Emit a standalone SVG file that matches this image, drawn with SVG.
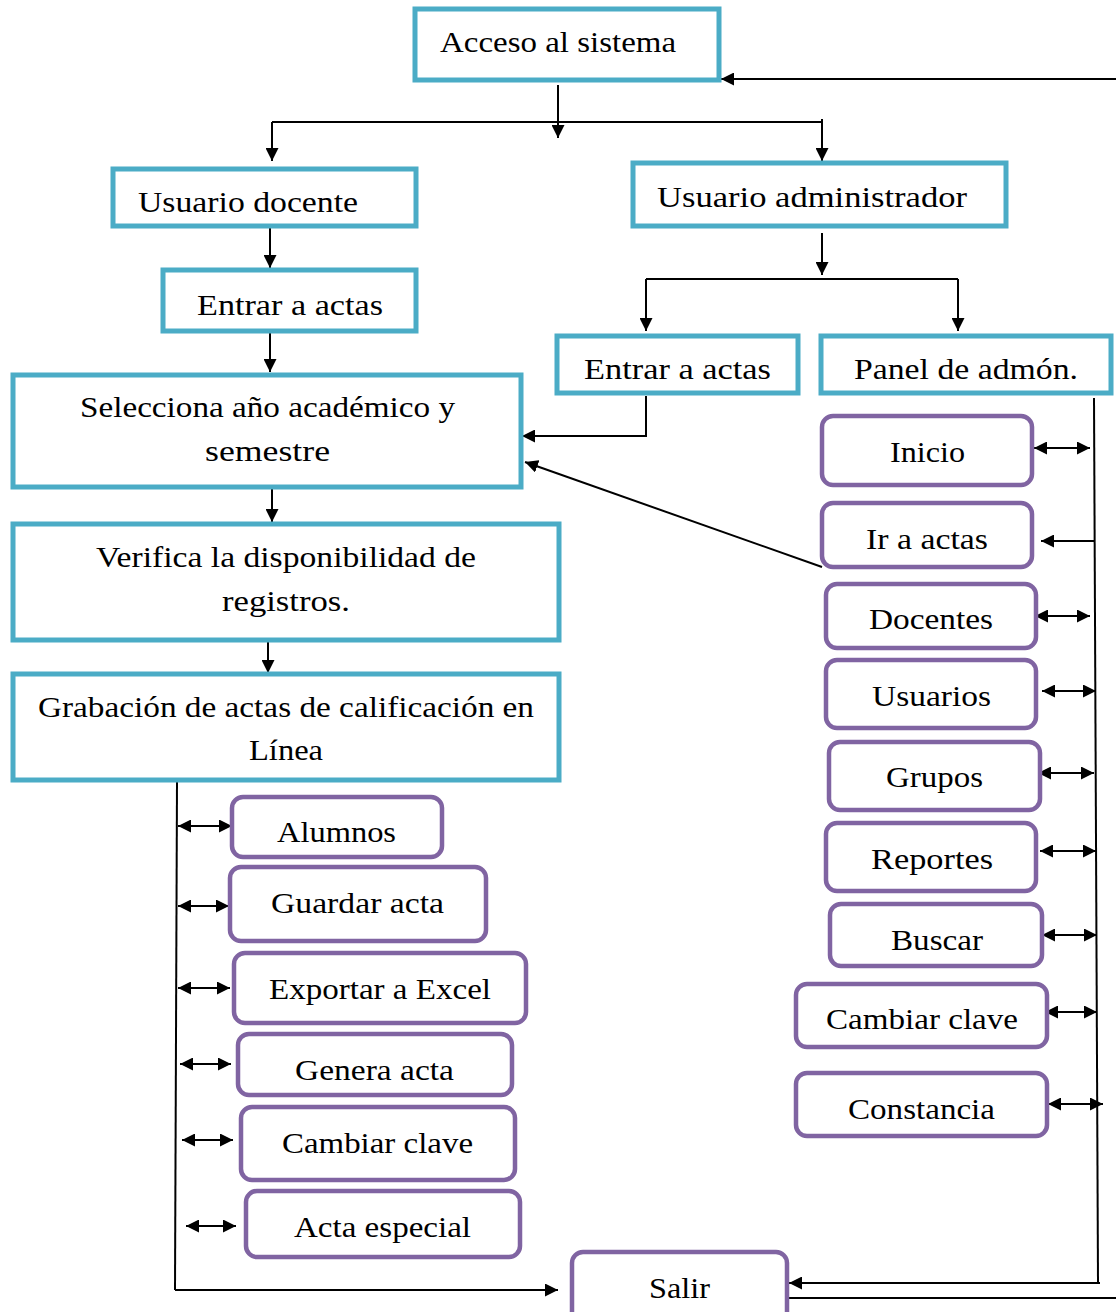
<svg xmlns="http://www.w3.org/2000/svg" width="1116" height="1312" viewBox="0 0 1116 1312">
<defs>
<marker id="ah" viewBox="0 0 10 10" refX="10" refY="5" markerWidth="13" markerHeight="13" markerUnits="userSpaceOnUse" orient="auto-start-reverse"><path d="M0,0 L10,5 L0,10 Z" fill="#000"/></marker>
</defs>
<style>
.c{fill:#fff;stroke:#4BACC6;stroke-width:5}
.p{fill:#fff;stroke:#8064A2;stroke-width:4.5}
.t{font-family:"Liberation Serif","DejaVu Serif",serif;font-size:30px;fill:#000;text-anchor:middle}
.l{fill:none;stroke:#000;stroke-width:2}
.a{marker-end:url(#ah)}
.d{marker-start:url(#ah);marker-end:url(#ah)}
</style>
<rect width="1116" height="1312" fill="#fff"/>
<g id="connectors">
<line class="l a" x1="1116" y1="79" x2="721" y2="79"/>
<line class="l a" x1="558" y1="85" x2="558" y2="138"/>
<line class="l" x1="272" y1="122" x2="822" y2="122"/>
<line class="l a" x1="272" y1="122" x2="272" y2="161"/>
<line class="l a" x1="822" y1="119" x2="822" y2="161"/>
<line class="l a" x1="270" y1="227" x2="270" y2="268"/>
<line class="l a" x1="270" y1="333" x2="270" y2="372"/>
<line class="l a" x1="272" y1="476" x2="272" y2="522"/>
<line class="l a" x1="268" y1="642" x2="268" y2="673"/>
<line class="l a" x1="822" y1="233" x2="822" y2="275"/>
<line class="l" x1="646" y1="279" x2="958" y2="279"/>
<line class="l a" x1="646" y1="279" x2="646" y2="331"/>
<line class="l a" x1="958" y1="279" x2="958" y2="331"/>
<polyline class="l a" points="646,396 646,436 522,436"/>
<line class="l a" x1="822" y1="567" x2="525" y2="462"/>
<line class="l" x1="1094" y1="398" x2="1098" y2="1283"/>
<line class="l a" x1="1100" y1="1283" x2="789" y2="1283"/>
<line class="l" x1="787" y1="1298" x2="1116" y2="1298"/>
<line class="l d" x1="1034" y1="448" x2="1090" y2="448"/>
<line class="l a" x1="1095" y1="541" x2="1041" y2="541"/>
<line class="l d" x1="1035" y1="616" x2="1090" y2="616"/>
<line class="l d" x1="1042" y1="691" x2="1096" y2="691"/>
<line class="l d" x1="1038" y1="773" x2="1094" y2="773"/>
<line class="l d" x1="1040" y1="851" x2="1096" y2="851"/>
<line class="l d" x1="1042" y1="935" x2="1097" y2="935"/>
<line class="l d" x1="1045" y1="1012" x2="1097" y2="1012"/>
<line class="l d" x1="1048" y1="1104" x2="1103" y2="1104"/>
<line class="l" x1="177" y1="782" x2="175" y2="1290"/>
<line class="l a" x1="175" y1="1290" x2="558" y2="1290"/>
<line class="l d" x1="178" y1="826" x2="232" y2="826"/>
<line class="l d" x1="178" y1="906" x2="229" y2="906"/>
<line class="l d" x1="178" y1="988" x2="230" y2="988"/>
<line class="l d" x1="180" y1="1064" x2="231" y2="1064"/>
<line class="l d" x1="182" y1="1140" x2="233" y2="1140"/>
<line class="l d" x1="186" y1="1226" x2="236" y2="1226"/>
</g>
<g id="n-acceso"><rect class="c" x="415" y="9" width="304" height="71"/><text class="t" x="558" y="52" textLength="236" lengthAdjust="spacingAndGlyphs">Acceso al sistema</text></g>
<g id="n-docente"><rect class="c" x="113" y="169" width="303" height="57"/><text class="t" x="248" y="212" textLength="220" lengthAdjust="spacingAndGlyphs">Usuario docente</text></g>
<g id="n-admin"><rect class="c" x="633" y="163" width="373" height="63"/><text class="t" x="812" y="207" textLength="310" lengthAdjust="spacingAndGlyphs">Usuario administrador</text></g>
<g id="n-entrar1"><rect class="c" x="163" y="270" width="253" height="61"/><text class="t" x="290" y="315" textLength="186" lengthAdjust="spacingAndGlyphs">Entrar a actas</text></g>
<g id="n-entrar2"><rect class="c" x="557" y="336" width="241" height="57"/><text class="t" x="677.5" y="379" textLength="187" lengthAdjust="spacingAndGlyphs">Entrar a actas</text></g>
<g id="n-panel"><rect class="c" x="821" y="336" width="290" height="57"/><text class="t" x="966" y="379" textLength="224" lengthAdjust="spacingAndGlyphs">Panel de admón.</text></g>
<g id="n-selecciona"><rect class="c" x="13" y="375" width="508" height="112"/><text class="t" x="267.5" y="417" textLength="375" lengthAdjust="spacingAndGlyphs">Selecciona año académico y</text><text class="t" x="267.5" y="461" textLength="125" lengthAdjust="spacingAndGlyphs">semestre</text></g>
<g id="n-verifica"><rect class="c" x="13" y="524" width="546" height="116"/><text class="t" x="286" y="567" textLength="380" lengthAdjust="spacingAndGlyphs">Verifica la disponibilidad de</text><text class="t" x="286" y="611" textLength="128" lengthAdjust="spacingAndGlyphs">registros.</text></g>
<g id="n-grabacion"><rect class="c" x="13" y="674" width="546" height="106"/><text class="t" x="286" y="717" textLength="496" lengthAdjust="spacingAndGlyphs">Grabación de actas de calificación en</text><text class="t" x="286" y="760" textLength="74" lengthAdjust="spacingAndGlyphs">Línea</text></g>
<g id="n-inicio"><rect class="p" x="822" y="416" width="210" height="69" rx="11"/><text class="t" x="927.5" y="462" textLength="75" lengthAdjust="spacingAndGlyphs">Inicio</text></g>
<g id="n-iractas"><rect class="p" x="822" y="503" width="210" height="64" rx="11"/><text class="t" x="927" y="549" textLength="122" lengthAdjust="spacingAndGlyphs">Ir a actas</text></g>
<g id="n-docentes"><rect class="p" x="826" y="584" width="210" height="64" rx="11"/><text class="t" x="931" y="629" textLength="124" lengthAdjust="spacingAndGlyphs">Docentes</text></g>
<g id="n-usuarios"><rect class="p" x="826" y="660" width="210" height="68" rx="11"/><text class="t" x="931.5" y="706" textLength="119" lengthAdjust="spacingAndGlyphs">Usuarios</text></g>
<g id="n-grupos"><rect class="p" x="829" y="742" width="211" height="68" rx="11"/><text class="t" x="934.5" y="787" textLength="97" lengthAdjust="spacingAndGlyphs">Grupos</text></g>
<g id="n-reportes"><rect class="p" x="826" y="823" width="210" height="68" rx="11"/><text class="t" x="932" y="869" textLength="122" lengthAdjust="spacingAndGlyphs">Reportes</text></g>
<g id="n-buscar"><rect class="p" x="830" y="904" width="212" height="62" rx="11"/><text class="t" x="937" y="950" textLength="92" lengthAdjust="spacingAndGlyphs">Buscar</text></g>
<g id="n-cambiar2"><rect class="p" x="796" y="984" width="251" height="63" rx="11"/><text class="t" x="922" y="1029" textLength="192" lengthAdjust="spacingAndGlyphs">Cambiar clave</text></g>
<g id="n-constancia"><rect class="p" x="796" y="1073" width="251" height="63" rx="11"/><text class="t" x="921.5" y="1119" textLength="147" lengthAdjust="spacingAndGlyphs">Constancia</text></g>
<g id="n-salir"><rect class="p" x="572" y="1252" width="215" height="72" rx="11"/><text class="t" x="679.5" y="1298" textLength="61" lengthAdjust="spacingAndGlyphs">Salir</text></g>
<g id="n-alumnos"><rect class="p" x="232" y="797" width="210" height="60" rx="11"/><text class="t" x="336.5" y="842" textLength="119" lengthAdjust="spacingAndGlyphs">Alumnos</text></g>
<g id="n-guardar"><rect class="p" x="230" y="867" width="256" height="74" rx="11"/><text class="t" x="357.5" y="913" textLength="173" lengthAdjust="spacingAndGlyphs">Guardar acta</text></g>
<g id="n-exportar"><rect class="p" x="234" y="953" width="292" height="70" rx="11"/><text class="t" x="380" y="999" textLength="222" lengthAdjust="spacingAndGlyphs">Exportar a Excel</text></g>
<g id="n-genera"><rect class="p" x="238" y="1034" width="274" height="61" rx="11"/><text class="t" x="374.5" y="1080" textLength="159" lengthAdjust="spacingAndGlyphs">Genera acta</text></g>
<g id="n-cambiar1"><rect class="p" x="241" y="1107" width="274" height="73" rx="11"/><text class="t" x="377.5" y="1153" textLength="191" lengthAdjust="spacingAndGlyphs">Cambiar clave</text></g>
<g id="n-acta"><rect class="p" x="246" y="1191" width="274" height="66" rx="11"/><text class="t" x="382.5" y="1237" textLength="177" lengthAdjust="spacingAndGlyphs">Acta especial</text></g>
</svg>
